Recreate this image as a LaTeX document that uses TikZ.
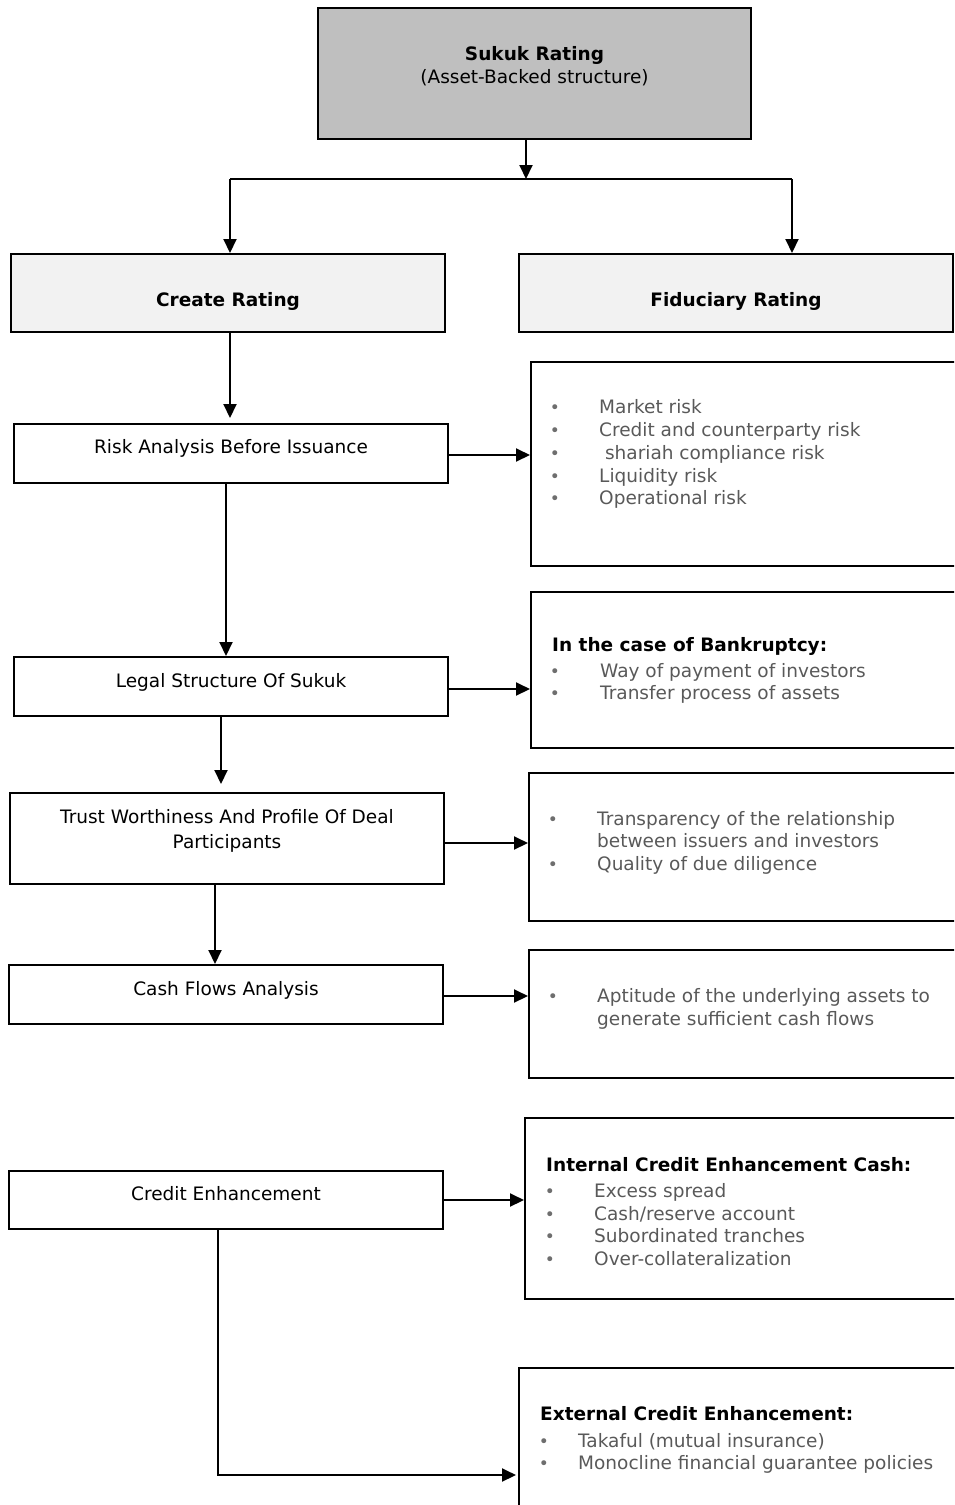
\documentclass[tikz,border=0pt]{standalone}
\usepackage{fontspec}
\setmainfont{DejaVu Sans}
\usetikzlibrary{arrows.meta}
\definecolor{topfill}{HTML}{BFBFBF}
\definecolor{subfill}{HTML}{F2F2F2}
\definecolor{itemgray}{HTML}{595959}
\definecolor{dotgray}{HTML}{6E6E6E}
\newcommand{\bodyfont}{\fontsize{18.5}{22}\selectfont}
\begin{document}
\begin{tikzpicture}[x=1pt,y=-1pt,
  font=\bodyfont,
  box/.style={draw=black, line width=2pt, rectangle, inner sep=0pt},
  lbl/.style={anchor=mid, inner sep=0pt, text=black, yshift=-5pt},
  head/.style={anchor=mid west, inner sep=0pt, yshift=-5pt, font=\bodyfont\bfseries},
  item/.style={anchor=mid west, inner sep=0pt, yshift=-5pt, text=itemgray},
  dot/.style={anchor=mid, inner sep=0pt, yshift=-5pt, text=dotgray, font=\fontsize{17}{18}\selectfont},
  link/.style={line width=2pt, -{Triangle[length=14pt,width=13pt]}},
  rail/.style={line width=2pt}]
\useasboundingbox (0,0) rectangle (954,1505);
\clip (0,0) rectangle (954,1505);

% --- boxes of the left column and the header ---
\node[box, fill=topfill, minimum width=433, minimum height=131] (top) at (534.5,73.5) {};
\node[box, fill=subfill, minimum width=434, minimum height=78] (create) at (228,293) {};
\node[box, fill=subfill, minimum width=434, minimum height=78] (fid) at (736,293) {};
\node[box, minimum width=434, minimum height=59] (risk) at (231,453.5) {};
\node[box, minimum width=434, minimum height=59] (legal) at (231,686.5) {};
\node[box, minimum width=434, minimum height=91] (trust) at (227,838.5) {};
\node[box, minimum width=434, minimum height=59] (cash) at (226,994.5) {};
\node[box, minimum width=434, minimum height=58] (ce) at (226,1200) {};

% --- detail boxes on the right (they run past the page edge) ---
\node[box, minimum width=444, minimum height=204] (r1) at (753,464) {};
\node[box, minimum width=444, minimum height=156] (r2) at (753,670) {};
\node[box, minimum width=446, minimum height=148] (r3) at (752,847) {};
\node[box, minimum width=446, minimum height=128] (r4) at (752,1014) {};
\node[box, minimum width=450, minimum height=181] (r5) at (750,1208.5) {};
\node[box, minimum width=456, minimum height=162] (r6) at (747,1449) {};

% --- labels ---
\node[lbl, font=\bodyfont\bfseries] (topa) at (534.5,53) {Sukuk Rating};
\node[lbl] (topb) at (534.5,76) {(Asset-Backed structure)};
\node[lbl, font=\bodyfont\bfseries] (createt) at (228,299) {Create Rating};
\node[lbl, font=\bodyfont\bfseries] (fidt) at (736,299) {Fiduciary Rating};
\node[lbl] (riskt) at (231,446) {Risk Analysis Before Issuance};
\node[lbl] (legalt) at (231,680) {Legal Structure Of Sukuk};
\node[lbl] (trusta) at (227,816) {Trust Worthiness And Profile Of Deal};
\node[lbl] (trustb) at (227,841) {Participants};
\node[lbl] (casht) at (226,988) {Cash Flows Analysis};
\node[lbl] (cet) at (226,1193) {Credit Enhancement};

% risks
\foreach \y/\t [count=\i] in {406/{Market risk}, 429/{Credit and counterparty risk},
    452/{\ shariah compliance risk}, 475/{Liquidity risk}, 497/{Operational risk}}{
  \node[dot] (r1d\i) at (555,\y) {•};
  \node[item] (r1t\i) at (599,\y) {\t};
}
% bankruptcy
\node[head] (r2h) at (552,644) {In the case of Bankruptcy:};
\foreach \y/\t [count=\i] in {670/{Way of payment of investors}, 692/{Transfer process of assets}}{
  \node[dot] (r2d\i) at (555,\y) {•};
  \node[item] (r2t\i) at (600,\y) {\t};
}
% participants
\node[dot] (r3d1) at (553,818) {•};
\node[item] (r3t1) at (597,818) {Transparency of the relationship};
\node[item] (r3t2) at (597,840) {between issuers and investors};
\node[dot] (r3d2) at (553,863) {•};
\node[item] (r3t3) at (597,863) {Quality of due diligence};
% cash flows
\node[dot] (r4d1) at (553,995) {•};
\node[item] (r4t1) at (597,995) {Aptitude of the underlying assets to};
\node[item] (r4t2) at (597,1018) {generate sufficient cash flows};
% internal enhancement
\node[head] (r5h) at (546,1164) {Internal Credit Enhancement Cash:};
\foreach \y/\t [count=\i] in {1190/{Excess spread}, 1213/{Cash/reserve account},
    1235/{Subordinated tranches}, 1258/{Over-collateralization}}{
  \node[dot] (r5d\i) at (550,\y) {•};
  \node[item] (r5t\i) at (594,\y) {\t};
}
% external enhancement
\node[head] (r6h) at (540,1413) {External Credit Enhancement:};
\foreach \y/\t [count=\i] in {1440/{Takaful (mutual insurance)}, 1462/{Monocline financial guarantee policies}}{
  \node[dot] (r6d\i) at (544,\y) {•};
  \node[item] (r6t\i) at (578,\y) {\t};
}

% --- connectors ---
\coordinate (split) at (526,179);
\coordinate (lb) at (230,179);
\coordinate (rb) at (792,179);
\draw[link] (split |- top.south) -- (split);
\draw[rail] (lb) -- (rb);
\draw[link] (lb) -- (lb |- create.north);
\draw[link] (rb) -- (rb |- fid.north);
\draw[link] ([xshift=2pt]create.south) -- ([xshift=2pt,yshift=5pt]create.south |- risk.north);
\draw[link] (risk.east |- 0,455) -- (r1.west |- 0,455);
\draw[link] ([xshift=-5pt]risk.south) -- ([xshift=-5pt]risk.south |- legal.north);
\draw[link] (legal.east |- 0,689) -- (r2.west |- 0,689);
\draw[link, shorten >=8pt] ([xshift=-10pt]legal.south) -- ([xshift=-10pt]legal.south |- trust.north);
\draw[link] (trust.east |- 0,843) -- (r3.west |- 0,843);
\draw[link] ([xshift=-12pt]trust.south) -- ([xshift=-12pt]trust.south |- cash.north);
\draw[link] (cash.east |- 0,996) -- (r4.west |- 0,996);
\draw[link] (ce.east) -- (r5.west |- ce.east);
\draw[link] ([xshift=-8pt]ce.south) |- ([xshift=-2pt,yshift=-26pt]r6.west);
\end{tikzpicture}
\end{document}
